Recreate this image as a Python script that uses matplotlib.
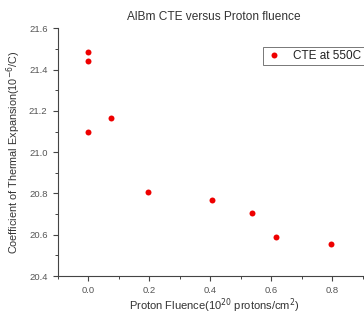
import matplotlib
matplotlib.use("Agg")
import matplotlib.pyplot as plt
from matplotlib.ticker import MultipleLocator

fluence = [0.0, 0.0, 0.0, 0.074, 0.196, 0.405, 0.536, 0.615, 0.795]
cte = [21.484, 21.443, 21.099, 21.165, 20.806, 20.769, 20.706, 20.591, 20.557]
xticks = [0.0, 0.2, 0.4, 0.6, 0.8]
yticks = [20.4, 20.6, 20.8, 21.0, 21.2, 21.4, 21.6]

plt.rcParams['font.family'] = ['Liberation Sans', 'DejaVu Sans']
W, H = 364, 318
fig = plt.figure(figsize=(W/100, H/100), dpi=100)
ax = fig.add_axes([58/W, 1-276/H, (370-58)/W, (276-28.3)/H])

ax.plot(fluence, cte, 'o', color='#ee0000', markersize=4.3, markeredgewidth=0,
        label='CTE at 550C')

ax.set_xlim(-0.1, 0.923)
ax.set_ylim(20.4, 21.6)
ax.set_xticks(xticks)
ax.set_yticks(yticks)
ax.xaxis.set_minor_locator(MultipleLocator(0.1))
ax.yaxis.set_minor_locator(MultipleLocator(0.1))
ax.set_xticklabels([f"{t:.1f}" for t in xticks])
ax.set_yticklabels([f"{t:.1f}" for t in yticks])

for s in ['top', 'right']:
    ax.spines[s].set_visible(False)
for s in ['left', 'bottom']:
    ax.spines[s].set_color('#444444')
    ax.spines[s].set_linewidth(0.8)
ax.tick_params(which='major', direction='out', length=3.5, width=0.8,
               colors='#444444', labelsize=6.8, labelcolor='#555555', pad=4)
ax.tick_params(which='minor', direction='out', length=2, width=0.7, colors='#444444')

ax.set_title('AlBm CTE versus Proton fluence', fontsize=8.6, color='#333333', pad=6)
ax.set_xlabel('Proton Fluence(10$^{20}$ protons/cm$^2$)', fontsize=8.0, color='#333333', labelpad=1)
ax.set_ylabel('Coefficient of Thermal Expansion(10$^{-6}$/C)', fontsize=7.8, color='#333333', labelpad=4)

leg = ax.legend(loc='upper left', bbox_to_anchor=(263/W, 1-46.7/H),
                bbox_transform=fig.transFigure, fontsize=8.5, frameon=True,
                fancybox=False, borderpad=0.25, handletextpad=0.9,
                handlelength=1.4, borderaxespad=0)
leg.get_frame().set_edgecolor('#555555')
leg.get_frame().set_linewidth(0.7)
for t in leg.get_texts():
    t.set_color('#222222')

fig.savefig('out.png', dpi=100)
